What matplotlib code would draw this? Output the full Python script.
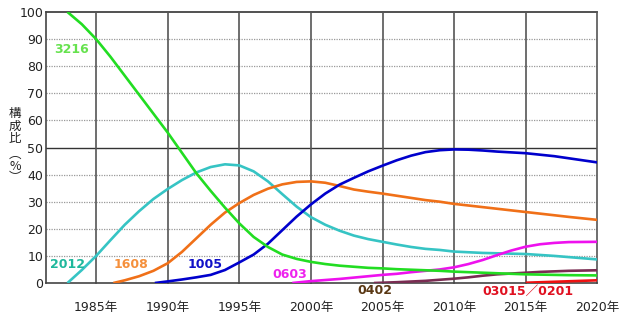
import matplotlib.pyplot as plt

plt.rcParams['font.family'] = ['DejaVu Sans', 'Noto Sans CJK JP']

# share (%) by chip size, read year by year
y3216 = [1983, 1984, 1985, 1986, 1987, 1988, 1989, 1990, 1991, 1992, 1993, 1994, 1995, 1996, 1997, 1998,
         1999, 2000, 2001, 2002, 2003, 2004, 2005, 2006, 2007, 2008, 2009, 2010, 2012, 2015, 2018, 2020]
v3216 = [100, 95.5, 90, 83.5, 76.5, 69.5, 62.5, 55.5, 48, 40.5, 34, 27.8, 22, 17, 13.3, 10.5,
         8.9, 7.8, 7, 6.4, 6, 5.6, 5.4, 5.1, 4.9, 4.7, 4.5, 4.2, 3.8, 3.2, 2.9, 2.8]

y2012 = [1983, 1984, 1985, 1986, 1987, 1988, 1989, 1990, 1991, 1992, 1993, 1994, 1995, 1996, 1997, 1998,
         1999, 2000, 2001, 2002, 2003, 2004, 2005, 2006, 2007, 2008, 2009, 2010, 2012, 2015, 2017, 2020]
v2012 = [0, 4.8, 10, 15.8, 21.5, 26.5, 31, 34.7, 38, 40.8, 42.8, 43.8, 43.4, 41.2, 37.5, 32.8,
         28.2, 24.3, 21.5, 19.3, 17.5, 16.2, 15.2, 14.2, 13.3, 12.6, 12.2, 11.6, 11.1, 10.7, 10, 8.7]

y1608 = [1986.2, 1987, 1988, 1989, 1990, 1991, 1992, 1993, 1994, 1995, 1996, 1997, 1998, 1999, 2000,
         2001, 2002, 2003, 2004, 2005, 2006, 2007, 2008, 2009, 2010, 2012, 2015, 2018, 2020]
v1608 = [0, 1, 2.5, 4.5, 7.3, 11.5, 16.5, 21.5, 26, 29.5, 32.5, 34.8, 36.4, 37.3, 37.5,
         37, 35.8, 34.5, 33.7, 33, 32.2, 31.4, 30.6, 30, 29.2, 28, 26.2, 24.4, 23.3]

y1005 = [1989.1, 1990, 1991, 1992, 1993, 1994, 1995, 1996, 1997, 1998, 1999, 2000, 2001, 2002, 2003,
         2004, 2005, 2006, 2007, 2008, 2009, 2010, 2011, 2012, 2013, 2014, 2015, 2017, 2020]
v1005 = [0, 0.6, 1.3, 2.1, 3, 4.8, 7.6, 10.5, 14.5, 19.5, 24.5, 29, 33, 36.3, 38.8,
         41.2, 43.3, 45.3, 47, 48.3, 49, 49.3, 49.2, 48.9, 48.5, 48.2, 47.9, 46.8, 44.5]

y0603 = [1998.7, 2000, 2002, 2004, 2005, 2006, 2007, 2008, 2009, 2010, 2011, 2012, 2013, 2014, 2015,
         2016, 2017, 2018, 2020]
v0603 = [0, 0.7, 1.5, 2.5, 3, 3.4, 4, 4.5, 5, 5.8, 7, 8.5, 10.3, 12, 13.4,
         14.3, 14.8, 15.1, 15.2]

y0402 = [2004.4, 2006, 2008, 2010, 2011, 2012, 2013, 2014, 2015, 2016, 2018, 2020]
v0402 = [0, 0.3, 0.8, 1.6, 2.1, 2.7, 3.2, 3.5, 3.8, 4.1, 4.5, 4.7]

y0201 = [2015, 2020]
v0201 = [0.1, 1.0]

series = [
    (y2012, v2012, '#36c4c4'),
    (y1608, v1608, '#f07018'),
    (y1005, v1005, '#0000cc'),
    (y0603, v0603, '#ee11ee'),
    (y0402, v0402, '#7a2c52'),
    (y0201, v0201, '#ee1111'),
    (y3216, v3216, '#22dd22'),
]

labels = [
    ('3216', 1982.1, 86, '#66e24e'),
    ('2012', 1981.8, 7, '#1fb89c'),
    ('1608', 1986.2, 7, '#f5903c'),
    ('1005', 1991.4, 7, '#1010c8'),
    ('0603', 1997.3, 3.3, '#ee22ee'),
    ('0402', 2003.25, -2.7, '#5a3814'),
    ('03015／0201', 2012.0, -3.0, '#e01020'),
]

fig = plt.figure(figsize=(6.25, 3.23), dpi=100)
ax = fig.add_axes([0.0736, 0.1238, 0.8821, 0.839])

for yrs, vals, col in series:
    ax.plot(yrs, vals, color=col, linewidth=1.9, solid_capstyle='butt', zorder=3)

ax.set_xlim(1981.5, 2020)
ax.set_ylim(0, 100)

# grid: dotted every 10 %, solid at 50 %, solid every 5 years
for v in range(10, 100, 10):
    if v == 50:
        ax.axhline(v, color='#333333', linewidth=1.0, zorder=1)
    else:
        ax.axhline(v, color='#999999', linewidth=0.9, linestyle=(0, (1, 1)), zorder=1)
ax.axhline(100, color='#333333', linewidth=1.2, zorder=1, clip_on=False)
for yr in range(1985, 2021, 5):
    ax.axvline(yr, color='#555555', linewidth=1.2, zorder=1, clip_on=False)

for s in ['top', 'right']:
    ax.spines[s].set_visible(False)
ax.spines['left'].set_color('#444444')
ax.spines['bottom'].set_color('#444444')
ax.spines['left'].set_linewidth(1.2)
ax.spines['bottom'].set_linewidth(1.2)

ax.set_yticks(range(0, 101, 10))
ax.set_yticklabels([str(v) for v in range(0, 101, 10)], fontsize=9, color='#222222')
ax.set_xticks(range(1985, 2021, 5))
ax.set_xticklabels([f'{yr}年' for yr in range(1985, 2021, 5)], fontsize=9, color='#222222')
ax.tick_params(axis='y', length=0, pad=2)
ax.tick_params(axis='x', length=0, pad=13)

for txt, x, y, col in labels:
    ax.text(x, y, txt, color=col, fontsize=9, fontweight='bold', ha='left', va='center',
            clip_on=False, zorder=4)

fig.text(15 / 625, 1 - 126 / 323, '構\n成\n比', fontsize=9, ha='center', va='center',
         linespacing=0.95, color='#222222', family=['Noto Sans CJK JP'])
fig.text(15 / 625, 1 - 166 / 323, '︵\n%\n︶', fontsize=9, ha='center', va='center',
         linespacing=0.85, color='#222222', family=['Noto Sans CJK JP'])

fig.savefig('out.png', dpi=100)
